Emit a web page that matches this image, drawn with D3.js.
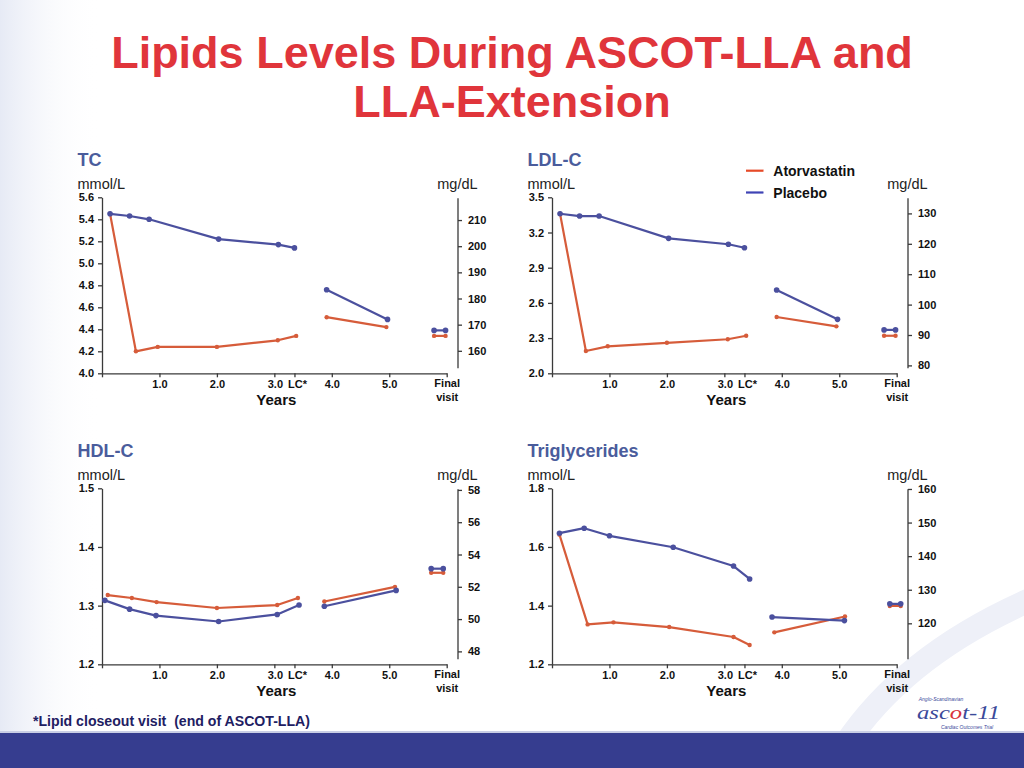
<!DOCTYPE html>
<html><head><meta charset="utf-8">
<script src="https://cdn.jsdelivr.net/npm/d3@7"></script>
<style>
html,body{margin:0;padding:0;background:#fff;}
svg{display:block;font-family:"Liberation Sans",Arial,Helvetica,sans-serif;}
</style></head><body>
<svg id="c" width="1024" height="768"></svg>
<script>
// ---------------- data ----------------
const seriesNames = ["Atorvastatin", "Placebo"];
const xTickValues = [0, 1, 2, 3, 3.35, 4, 5, 6];
const xTickLabels = ["", "1.0", "2.0", "3.0", "LC*", "4.0", "5.0", "Final|visit"];
const segmentStarts = [0, 6, 8, 10];

// TC
const tcYearsPla = [0.14, 0.48, 0.82, 2.03, 3.07, 3.35, 3.91, 4.97, 5.78, 5.98];
const tcPla      = [5.45, 5.43, 5.40, 5.22, 5.17, 5.14, 4.76, 4.49, 4.39, 4.39];
const tcYearsAtv = [0.14, 0.59, 0.97, 2.00, 3.06, 3.38, 3.91, 4.95, 5.78, 5.98];
const tcAtv      = [5.45, 4.20, 4.24, 4.24, 4.30, 4.34, 4.51, 4.42, 4.34, 4.34];
const tcLeftDomain = [4.0, 5.6];
const tcLeftTicks = [4.0, 4.2, 4.4, 4.6, 4.8, 5.0, 5.2, 5.4, 5.6];
const tcRightDomain = [151.4, 218.7];
const tcRightTicks = [160, 170, 180, 190, 200, 210];

// LDL-C
const ldlYearsPla = [0.14, 0.48, 0.82, 2.03, 3.07, 3.35, 3.91, 4.97, 5.78, 5.98];
const ldlPla      = [3.36, 3.34, 3.34, 3.15, 3.10, 3.07, 2.71, 2.46, 2.37, 2.37];
const ldlYearsAtv = [0.14, 0.59, 0.97, 2.00, 3.06, 3.38, 3.91, 4.95, 5.78, 5.98];
const ldlAtv      = [3.36, 2.19, 2.23, 2.26, 2.29, 2.32, 2.48, 2.40, 2.32, 2.32];
const ldlLeftDomain = [2.0, 3.5];
const ldlLeftTicks = [2.0, 2.3, 2.6, 2.9, 3.2, 3.5];
const ldlRightDomain = [77.4, 135.3];
const ldlRightTicks = [80, 90, 100, 110, 120, 130];

// HDL-C
const hdlYearsPla = [0.05, 0.48, 0.94, 2.03, 3.05, 3.43, 3.87, 5.12, 5.73, 5.94];
const hdlPla      = [1.309, 1.294, 1.283, 1.273, 1.285, 1.301, 1.299, 1.326, 1.363, 1.363];
const hdlYearsAtv = [0.10, 0.52, 0.95, 2.00, 3.05, 3.41, 3.87, 5.10, 5.73, 5.94];
const hdlAtv      = [1.318, 1.313, 1.306, 1.296, 1.301, 1.313, 1.307, 1.332, 1.356, 1.356];
const hdlLeftDomain = [1.2, 1.5];
const hdlLeftTicks = [1.2, 1.3, 1.4, 1.5];
const hdlRightDomain = [47.2, 58.1];
const hdlRightTicks = [48, 50, 52, 54, 56, 58];

// Triglycerides
const tgYearsPla = [0.13, 0.56, 1.00, 2.11, 3.16, 3.44, 3.83, 5.09, 5.88, 6.07];
const tgPla      = [1.647, 1.664, 1.638, 1.599, 1.535, 1.491, 1.361, 1.349, 1.406, 1.406];
const tgYearsAtv = [0.13, 0.62, 1.07, 2.04, 3.16, 3.44, 3.87, 5.10, 5.88, 6.07];
const tgAtv      = [1.642, 1.336, 1.343, 1.327, 1.293, 1.266, 1.309, 1.363, 1.399, 1.399];
const tgLeftDomain = [1.2, 1.8];
const tgLeftTicks = [1.2, 1.4, 1.6, 1.8];
const tgRightDomain = [107.8, 160.2];
const tgRightTicks = [120, 130, 140, 150, 160];

// ---------------- drawing ----------------
const RED = "#d65c3a", BLUE = "#4b509e", TITLE_BLUE = "#4a5c9c";
const svg = d3.select("#c");
const defs = svg.append("defs");
const lg = defs.append("linearGradient").attr("id", "lg").attr("x1", 0).attr("x2", 1).attr("y1", 0).attr("y2", 0);
lg.append("stop").attr("offset", 0).attr("stop-color", "#e6eaf5");
lg.append("stop").attr("offset", 1).attr("stop-color", "#ffffff").attr("stop-opacity", 0);

svg.append("rect").attr("width", 1024).attr("height", 768).attr("fill", "#fff");
svg.append("rect").attr("width", 100).attr("height", 735).attr("fill", "url(#lg)");
svg.append("path").attr("d", "M 845 745 Q 905 655 1030 600").attr("fill", "none")
  .attr("stroke", "#eef0f8").attr("stroke-width", 24);

// title
svg.append("text").attr("x", 512).attr("y", 68).attr("text-anchor", "middle")
  .attr("font-size", 45).attr("font-weight", "bold").attr("fill", "#e0353b")
  .text("Lipids Levels During ASCOT-LLA and");
svg.append("text").attr("x", 512).attr("y", 117).attr("text-anchor", "middle")
  .attr("font-size", 45).attr("font-weight", "bold").attr("fill", "#e0353b")
  .text("LLA-Extension");

const panels = [
  {title: "TC", x0: 102, yT: 197.3, yPla: tcPla, xPla: tcYearsPla, yAtv: tcAtv, xAtv: tcYearsAtv,
   ld: tcLeftDomain, lt: tcLeftTicks, rd: tcRightDomain, rt: tcRightTicks},
  {title: "LDL-C", x0: 552, yT: 197.3, yPla: ldlPla, xPla: ldlYearsPla, yAtv: ldlAtv, xAtv: ldlYearsAtv,
   ld: ldlLeftDomain, lt: ldlLeftTicks, rd: ldlRightDomain, rt: ldlRightTicks},
  {title: "HDL-C", x0: 102, yT: 488.3, yPla: hdlPla, xPla: hdlYearsPla, yAtv: hdlAtv, xAtv: hdlYearsAtv,
   ld: hdlLeftDomain, lt: hdlLeftTicks, rd: hdlRightDomain, rt: hdlRightTicks},
  {title: "Triglycerides", x0: 552, yT: 488.3, yPla: tgPla, xPla: tgYearsPla, yAtv: tgAtv, xAtv: tgYearsAtv,
   ld: tgLeftDomain, lt: tgLeftTicks, rd: tgRightDomain, rt: tgRightTicks}
];

const W = 344.7, H = 176;
panels.forEach(p => {
  const g = svg.append("g");
  const x = d3.scaleLinear().domain([0, 6]).range([p.x0, p.x0 + W]);
  const y = d3.scaleLinear().domain(p.ld).range([p.yT + H, p.yT]);
  const yR = d3.scaleLinear().domain(p.rd).range([p.yT + H, p.yT]);

  g.append("text").attr("x", p.x0 - 24.5).attr("y", p.yT - 31.5)
    .attr("font-size", 18).attr("font-weight", "bold").attr("fill", TITLE_BLUE).text(p.title);
  g.append("text").attr("x", p.x0 - 24.5).attr("y", p.yT - 8)
    .attr("font-size", 14.5).attr("fill", "#222").text("mmol/L");
  g.append("text").attr("x", p.x0 + 375.6).attr("y", p.yT - 8).attr("text-anchor", "end")
    .attr("font-size", 14.5).attr("fill", "#222").text("mg/dL");

  const fmt = d3.format(".1f");
  const la = g.append("g").attr("transform", `translate(${p.x0},0)`)
    .call(d3.axisLeft(y).tickValues(p.lt).tickFormat(fmt).tickSize(4).tickSizeOuter(0).tickPadding(4));
  const ra = g.append("g").attr("transform", `translate(${p.x0 + 356},0)`)
    .call(d3.axisRight(yR).tickValues(p.rt).tickFormat(d3.format("d")).tickSize(4).tickSizeOuter(0).tickPadding(6));
  ra.select(".domain").attr("d", `M0,${p.yT + 1}V${p.yT + H - 5}`);
  const xa = g.append("g").attr("transform", `translate(0,${p.yT + H})`)
    .call(d3.axisBottom(x).tickValues(xTickValues).tickFormat((d, i) => xTickLabels[i]).tickSize(4).tickSizeOuter(0).tickPadding(3));
  xa.selectAll(".tick text").each(function(d, i) {
    const lab = xTickLabels[i];
    const t = d3.select(this);
    if (lab === "LC*") t.attr("dx", 2.5);
    if (lab === "3.0") t.attr("dx", 0.5);
    if (lab.indexOf("|") >= 0) {
      const parts = lab.split("|");
      t.text(null).attr("dy", null).attr("y", 14);
      t.append("tspan").attr("x", 0).text(parts[0]);
      t.append("tspan").attr("x", 0).attr("dy", 13.5).text(parts[1]);
    }
  });
  [la, ra, xa].forEach(a => {
    a.selectAll("text").attr("font-size", 11).attr("font-weight", "bold").attr("fill", "#111")
      .attr("font-family", "'Liberation Sans',Arial,sans-serif");
    a.selectAll("line,path").attr("stroke", "#3a3a3a").attr("stroke-width", 1.3);
  });

  g.append("text").attr("x", p.x0 + 174.3).attr("y", p.yT + H + 31.7).attr("text-anchor", "middle")
    .attr("font-size", 15).attr("font-weight", "bold").attr("fill", "#111").text("Years");

  const line = d3.line().x(d => x(d[0])).y(d => y(d[1]));
  const series = [
    {xs: p.xAtv, ys: p.yAtv, color: RED, r: 2.2},
    {xs: p.xPla, ys: p.yPla, color: BLUE, r: 2.8}
  ];
  series.forEach(s => {
    const pts = s.xs.map((v, i) => [v, s.ys[i]]);
    for (let k = 0; k < segmentStarts.length - 1; k++) {
      const seg = pts.slice(segmentStarts[k], segmentStarts[k + 1]);
      g.append("path").attr("d", line(seg)).attr("fill", "none")
        .attr("stroke", s.color).attr("stroke-width", 2.2).attr("stroke-linejoin", "round");
    }
    g.selectAll(null).data(pts).enter().append("circle")
      .attr("cx", d => x(d[0])).attr("cy", d => y(d[1])).attr("r", s.r).attr("fill", s.color);
  });
});

// legend
const legendColors = ["#e64a28", "#3f43b5"];
seriesNames.forEach((n, i) => {
  const yy = 170.7 + i * 21.8;
  svg.append("line").attr("x1", 746).attr("x2", 763.5).attr("y1", yy).attr("y2", yy)
    .attr("stroke", legendColors[i]).attr("stroke-width", 2.2);
  svg.append("text").attr("x", 773.3).attr("y", yy + 5).attr("font-size", 14).attr("font-weight", "bold")
    .attr("fill", "#111").text(n);
});

// footer
svg.append("text").attr("x", 33).attr("y", 726).attr("font-size", 14).attr("font-weight", "bold")
  .attr("fill", "#1e2062").attr("textLength", 277).attr("lengthAdjust", "spacingAndGlyphs")
  .style("white-space", "pre").text("*Lipid closeout visit  (end of ASCOT-LLA)");

// bottom band
svg.append("rect").attr("x", 0).attr("y", 731).attr("width", 1024).attr("height", 2).attr("fill", "#c9cee5");
svg.append("rect").attr("x", 0).attr("y", 733).attr("width", 1024).attr("height", 35).attr("fill", "#363d8f");

// logo
const logo = svg.append("g");
logo.append("text").attr("x", 941).attr("y", 700.5).attr("text-anchor", "middle").attr("font-size", 5)
  .attr("font-style", "italic").attr("fill", "#3b4a9a").text("Anglo-Scandinavian");
const lt = logo.append("text").attr("x", 917).attr("y", 719).attr("font-size", 19)
  .attr("font-style", "italic").attr("font-family", "'Liberation Serif',serif").attr("fill", "#3b4a9a")
  .attr("textLength", 83).attr("lengthAdjust", "spacingAndGlyphs");
lt.append("tspan").text("asc");
lt.append("tspan").attr("fill", "#d8323c").text("o");
lt.append("tspan").text("t-11");
logo.append("text").attr("x", 967).attr("y", 729).attr("text-anchor", "middle").attr("font-size", 5)
  .attr("font-style", "italic").attr("fill", "#3b4a9a").text("Cardiac Outcomes Trial");
</script>
</body></html>
